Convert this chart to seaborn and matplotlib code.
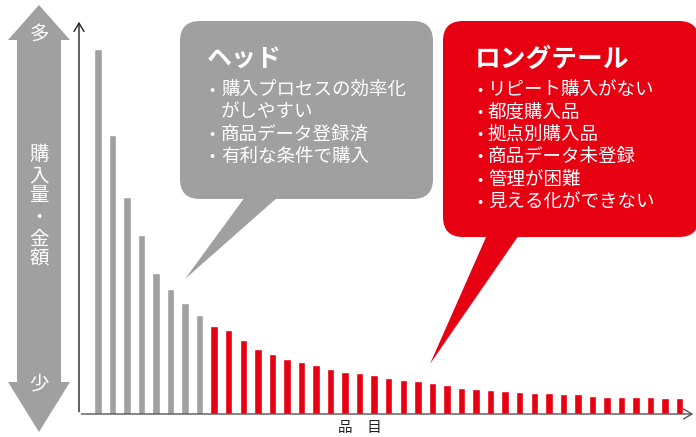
import matplotlib
matplotlib.use("Agg")
import matplotlib.pyplot as plt
import seaborn as sns
import pandas as pd
from matplotlib.patches import FancyBboxPatch, Polygon

# ---- data ----
head_values = [365, 279, 217, 179, 141, 125, 111, 99]
tail_values = [88.5, 84, 74, 65, 60, 55, 52, 49, 45, 42, 41, 39, 36, 34, 33, 31,
               29, 26, 25, 24, 23, 22, 21, 21, 20, 20, 18, 17, 17, 17, 17, 16, 16]
groups = ["ヘッド", "ロングテール"]
x_label = "品　目"
y_label_chars = ["購", "入", "量", "・", "金", "額"]
y_top_label = "多"
y_bottom_label = "少"
head_title = "ヘッド"
head_lines = [("•", "購入プロセスの効率化"), ("", "がしやすい"),
              ("•", "商品データ登録済"), ("•", "有利な条件で購入")]
tail_title = "ロングテール"
tail_lines = [("•", "リピート購入がない"), ("•", "都度購入品"), ("•", "拠点別購入品"),
              ("•", "商品データ未登録"), ("•", "管理が困難"), ("•", "見える化ができない")]

GRAY = "#a0a0a0"
RED = "#e60012"

values = head_values + tail_values
df = pd.DataFrame({
    "item": list(range(len(values))),
    "value": values,
    "group": [groups[0]] * len(head_values) + [groups[1]] * len(tail_values),
})

sns.set_theme(style="white")
plt.rcParams["font.family"] = ["Noto Sans CJK JP", "DejaVu Sans"]

W, H = 696, 437
fig = plt.figure(figsize=(W / 100, H / 100), dpi=100)
fig.patch.set_facecolor("white")

ax = fig.add_axes([79 / W, (H - 414) / H, (693 - 79) / W, (414 - 22) / H])
sns.barplot(data=df, x="item", y="value", hue="group",
            palette={groups[0]: GRAY, groups[1]: RED},
            dodge=False, width=0.515, legend=False, ax=ax, saturation=1)
ax.set_xlim(-1.289, 40.911)
ax.set_ylim(0, 392)
ax.set_xticks([])
ax.set_yticks([])
ax.set_xlabel("")
ax.set_ylabel("")
for s in ax.spines.values():
    s.set_visible(False)
ax.patch.set_alpha(0)

# overlay in pixel coordinates (y measured from top)
ov = fig.add_axes([0, 0, 1, 1])
ov.set_xlim(0, W)
ov.set_ylim(H, 0)
ov.axis("off")
ov.patch.set_alpha(0)

# axes with arrows
ov.annotate("", xy=(79, 19), xytext=(79, 414.5),
            arrowprops=dict(arrowstyle="->,head_length=0.5,head_width=0.3", color="#222222", lw=1.0))
ov.annotate("", xy=(696, 414), xytext=(78.5, 414),
            arrowprops=dict(arrowstyle="->,head_length=0.5,head_width=0.3", color="#555555", lw=1.0))
ov.text(360, 428, x_label, ha="center", va="center", fontsize=10.5, color="#222222")

# left double arrow
arrow_pts = [(39, 5), (70, 40), (61, 40), (61, 382), (70, 382), (39, 432),
             (8, 382), (17, 382), (17, 40), (8, 40)]
ov.add_patch(Polygon(arrow_pts, closed=True, facecolor=GRAY, edgecolor="none"))
ov.text(39, 35, y_top_label, ha="center", va="center", fontsize=14, color="white")
ov.text(39, 384, y_bottom_label, ha="center", va="center", fontsize=14, color="white")
for ch, yy in zip(y_label_chars, [154, 176, 196, 217, 239, 259]):
    ov.text(39, yy, ch, ha="center", va="center", fontsize=14, color="white")

# head callout
ov.add_patch(FancyBboxPatch((180, 21), 253, 178,
                            boxstyle="round,pad=0,rounding_size=20",
                            facecolor=GRAY, edgecolor="none"))
ov.add_patch(Polygon([(245, 197), (278, 197), (185, 279)], closed=True,
                     facecolor=GRAY, edgecolor="none"))
ov.text(207, 59, head_title, ha="left", va="center", fontsize=18,
        fontweight="bold", color="white")
for (b, t), yy in zip(head_lines, [90, 112, 135, 157]):
    if b:
        ov.text(212, yy, b, ha="center", va="center", fontsize=11, color="white")
    ov.text(221, yy, t, ha="left", va="center", fontsize=13.3, color="white")

# tail callout
ov.add_patch(FancyBboxPatch((443, 21), 256, 216,
                            boxstyle="round,pad=0,rounding_size=20",
                            facecolor=RED, edgecolor="none"))
ov.add_patch(Polygon([(487, 235), (519, 235), (430, 364)], closed=True,
                     facecolor=RED, edgecolor="none"))
ov.text(475, 59, tail_title, ha="left", va="center", fontsize=18.5,
        fontweight="bold", color="white")
for (b, t), yy in zip(tail_lines, [90, 113, 135, 157, 180, 203]):
    ov.text(480, yy, b, ha="center", va="center", fontsize=11, color="white")
    ov.text(488, yy, t, ha="left", va="center", fontsize=13.3, color="white")

fig.savefig("out.png", dpi=100, facecolor="white")
